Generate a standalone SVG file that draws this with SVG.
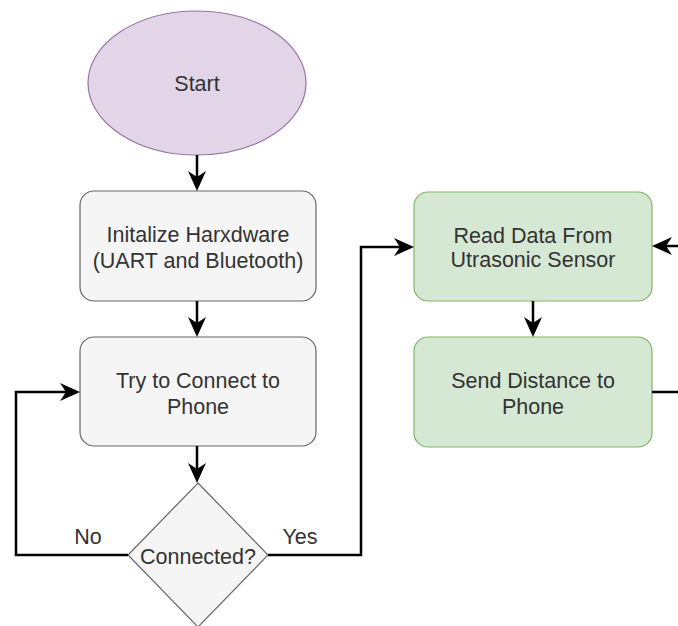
<svg xmlns="http://www.w3.org/2000/svg" width="678" height="626" viewBox="0 0 678 626">
<style>
text{font-family:"Liberation Sans",Arial,sans-serif;font-size:21.5px;fill:#333;text-anchor:middle}
.grey{fill:#f5f5f5;stroke:#666;stroke-width:1.2}
.green{fill:#d5e8d4;stroke:#82b366;stroke-width:1.2}
.purple{fill:#e1d5e7;stroke:#9673a6;stroke-width:1.2}
.edge{fill:none;stroke:#000;stroke-width:2.5}
</style>
<defs>
<marker id="arr" viewBox="0 0 20 18" refX="14" refY="9" markerWidth="20" markerHeight="18" markerUnits="userSpaceOnUse" orient="auto">
<path d="M0,0 L20,9 L0,18 L6,9 Z" fill="#000"/>
</marker>
</defs>
<g id="start">
<ellipse class="purple" cx="197" cy="83" rx="109" ry="72"/>
<text x="197" y="90.5">Start</text>
</g>
<g id="init">
<rect class="grey" x="80" y="191" width="236" height="110" rx="14"/>
<text x="198" y="241.5">Initalize Harxdware</text>
<text x="198" y="267.5">(UART and Bluetooth)</text>
</g>
<g id="connect">
<rect class="grey" x="80" y="337" width="236" height="109" rx="14"/>
<text x="198" y="387.5">Try to Connect to</text>
<text x="198" y="413.5">Phone</text>
</g>
<g id="decision">
<polygon class="grey" points="198,483 268,555 198,627 128,555"/>
<text x="198" y="563.5">Connected?</text>
</g>
<g id="read">
<rect class="green" x="414" y="192" width="238" height="109" rx="14"/>
<text x="533" y="243">Read Data From</text>
<text x="533" y="267">Utrasonic Sensor</text>
</g>
<g id="send">
<rect class="green" x="414" y="337" width="238" height="110" rx="14"/>
<text x="533" y="387.5">Send Distance to</text>
<text x="533" y="413.5">Phone</text>
</g>
<g id="connectors">
<path class="edge" d="M197,155 L197,185" marker-end="url(#arr)"/>
<path class="edge" d="M197,301 L197,331" marker-end="url(#arr)"/>
<path class="edge" d="M197,446 L197,477" marker-end="url(#arr)"/>
<path class="edge" d="M128,555 L16,555 L16,392 L74,392" marker-end="url(#arr)"/>
<path class="edge" d="M268,555 L361,555 L361,247 L408,247" marker-end="url(#arr)"/>
<path class="edge" d="M533,301 L533,331" marker-end="url(#arr)"/>
<path class="edge" d="M680,246 L658,246" marker-end="url(#arr)"/>
<path class="edge" d="M652,392 L680,392"/>
<text x="88" y="544">No</text>
<text x="300" y="544">Yes</text>
</g>
</svg>
